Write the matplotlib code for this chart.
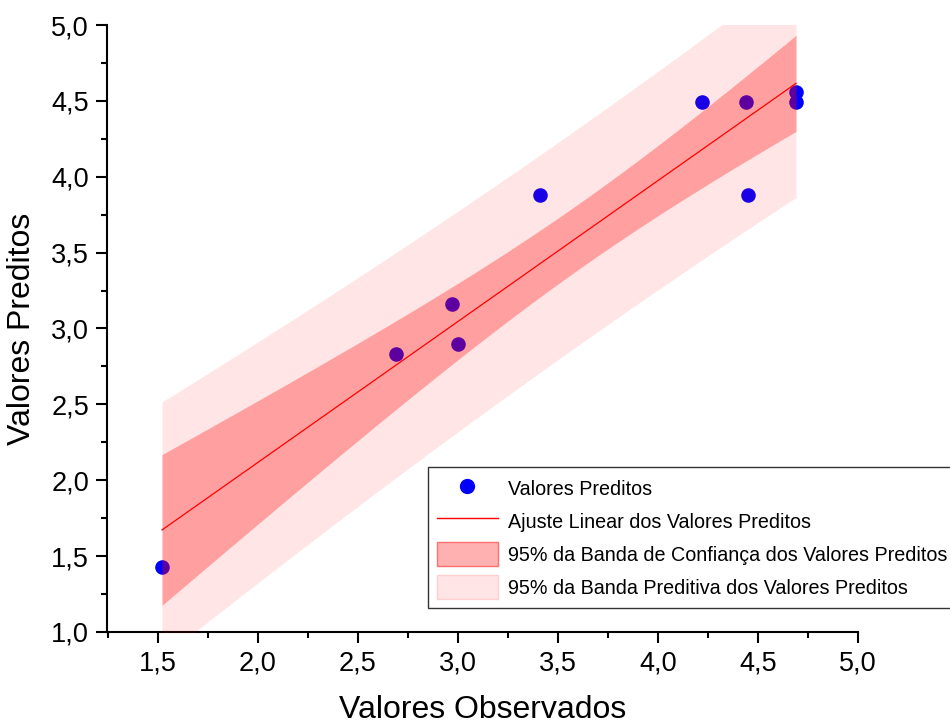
import numpy as np
import matplotlib
matplotlib.use("Agg")
from matplotlib import pyplot as plt
from matplotlib.ticker import MultipleLocator, FuncFormatter
from matplotlib.lines import Line2D
from matplotlib.patches import Patch

plt.rcParams['font.family'] = ['Liberation Sans', 'DejaVu Sans']

# observed vs predicted values
observados = [1.52, 2.69, 2.97, 3.00, 3.41, 4.22, 4.44, 4.45, 4.69, 4.69]
preditos = [1.43, 2.83, 3.16, 2.90, 3.88, 4.49, 4.49, 3.88, 4.56, 4.49]

lbl_pontos = "Valores Preditos"
lbl_ajuste = "Ajuste Linear dos Valores Preditos"
lbl_conf = "95% da Banda de Confiança dos Valores Preditos"
lbl_pred = "95% da Banda Preditiva dos Valores Preditos"

x = np.array(observados)
y = np.array(preditos)
n = len(x)
slope, intercept = np.polyfit(x, y, 1)
resid = y - (slope * x + intercept)
s = np.sqrt(np.sum(resid ** 2) / (n - 2))
t = 2.306  # t(0.975, df=8)
xx = np.linspace(x.min(), x.max(), 200)
yy = slope * xx + intercept
sxx = np.sum((x - x.mean()) ** 2)
conf = t * s * np.sqrt(1 / n + (xx - x.mean()) ** 2 / sxx)
pred = t * s * np.sqrt(1 + 1 / n + (xx - x.mean()) ** 2 / sxx)

fig = plt.figure(figsize=(9.5, 7.25), dpi=100)
ax = fig.add_axes([0.1126, 0.1283, 0.7906, 0.8372])

ax.scatter(x, y, s=110, color='#0000ff', zorder=2, linewidths=0)
ax.fill_between(xx, yy - pred, yy + pred, color='red', alpha=0.1, linewidth=0, zorder=3)
ax.fill_between(xx, yy - conf, yy + conf, color='red', alpha=0.3, linewidth=0, zorder=4)
ax.plot(xx, yy, color='red', lw=0.9, zorder=5)

ax.set_xlim(1.245, 5.0)
ax.set_ylim(1.0, 5.0)
ax.spines['top'].set_visible(False)
ax.spines['right'].set_visible(False)
for sp in ['left', 'bottom']:
    ax.spines[sp].set_linewidth(1.5)
ax.xaxis.set_major_locator(MultipleLocator(0.5))
ax.xaxis.set_minor_locator(MultipleLocator(0.25))
ax.yaxis.set_major_locator(MultipleLocator(0.5))
ax.yaxis.set_minor_locator(MultipleLocator(0.25))
fmt = FuncFormatter(lambda v, p: ("%.1f" % v).replace('.', ','))
ax.xaxis.set_major_formatter(fmt)
ax.yaxis.set_major_formatter(fmt)
ax.tick_params(which='major', direction='out', length=8, width=1.5, labelsize=19.5, pad=5)
ax.tick_params(which='minor', direction='out', length=4, width=1.5)

ax.set_xlabel("Valores Observados", fontsize=23, labelpad=14)
ax.set_ylabel("Valores Preditos", fontsize=23, labelpad=10)

handles = [
    Line2D([], [], marker='o', ls='none', color='#0000ff', markersize=10),
    Line2D([], [], color='red', lw=1),
    Patch(facecolor='#ffb0b0', edgecolor='#ff7070', lw=1),
    Patch(facecolor='#ffe5e5', edgecolor='#ffd0d0', lw=1),
]
leg = fig.legend(handles, [lbl_pontos, lbl_ajuste, lbl_conf, lbl_pred],
                 loc='lower left', bbox_to_anchor=(428 / 950, 1 - 608 / 725),
                 fontsize=14.2, frameon=True, fancybox=False, edgecolor='black',
                 handlelength=3.1, handleheight=1.5, labelspacing=0.45,
                 borderpad=0.45, handletextpad=0.5, borderaxespad=0)
leg.get_frame().set_linewidth(1.0)

fig.savefig("out.png", dpi=100)
